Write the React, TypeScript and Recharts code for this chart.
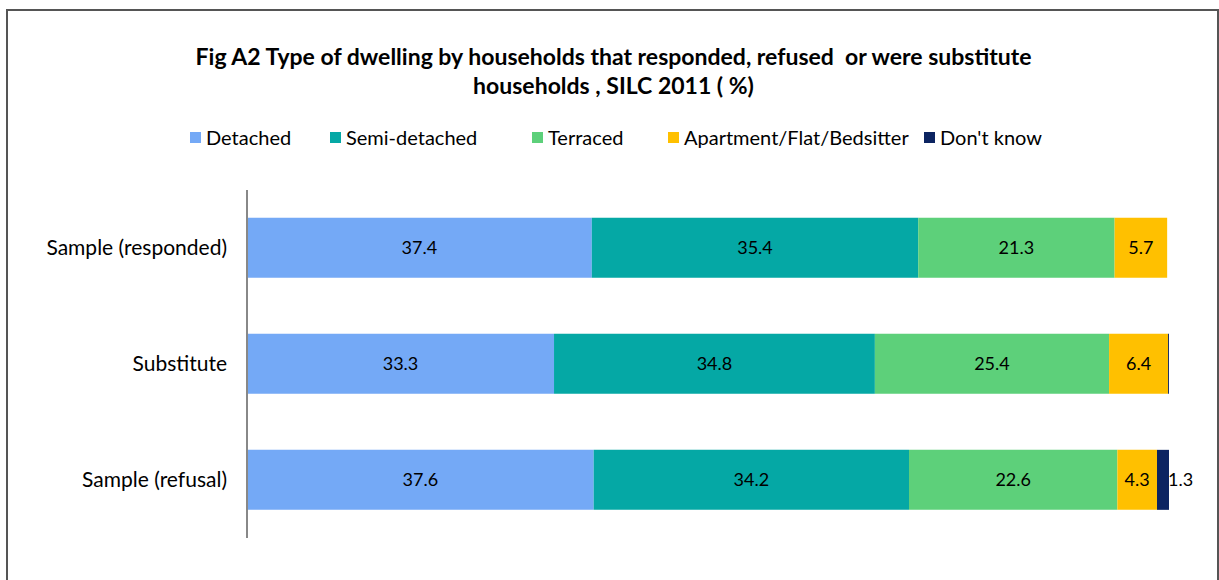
import React from "react";
import { BarChart, Bar, XAxis, YAxis, LabelList } from "recharts";

const categories = ["Sample (responded)", "Substitute", "Sample (refusal)"];
const detached = [37.4, 33.3, 37.6];
const semiDetached = [35.4, 34.8, 34.2];
const terraced = [21.3, 25.4, 22.6];
const apartment = [5.7, 6.4, 4.3];
const dontKnow = [0, 0.1, 1.3];

const seriesNames = ["Detached", "Semi-detached", "Terraced", "Apartment/Flat/Bedsitter", "Don't know"];
const seriesKeys = ["detached", "semi", "terraced", "apartment", "dk"];
const seriesColors = ["#74A9F6", "#05A8A5", "#5DD07A", "#FFC000", "#0C2461"];

const data = categories.map((c, i) => ({
  name: c,
  detached: detached[i],
  semi: semiDetached[i],
  terraced: terraced[i],
  apartment: apartment[i],
  dk: dontKnow[i],
}));

const FONT = "Lato, 'Open Sans', sans-serif";

const dkLabel = (props: any) => {
  const { x, y, width, height, value } = props;
  if (!value || value < 1) return null;
  return (
    <text x={x + width - 1} y={y + height / 2} dy={6} fontSize={18} fill="#000" fontFamily={FONT}>
      {value}
    </text>
  );
};

export default function App() {
  return (
    <div style={{ position: "absolute", left: 0, top: 0, width: 1219, height: 580, background: "#fff", overflow: "hidden", fontFamily: FONT }}>
      <div style={{ position: "absolute", left: 6, top: 9, width: 1213, height: 620, border: "2px solid #555", boxSizing: "border-box" }} />
      <div style={{ position: "absolute", left: 0, top: 42, width: 1227, textAlign: "center", fontWeight: 700, fontSize: 23, lineHeight: "29px", color: "#000" }}>
        Fig A2 Type of dwelling by households that responded, refused&nbsp; or were substitute
        <br />
        households , SILC 2011 ( %)
      </div>
      <div style={{ position: "absolute", left: 0, top: 125, width: 1219, height: 26 }}>
        {seriesNames.map((n, i) => {
          const lefts = [190, 330, 532, 668, 924];
          return (
            <div key={n} style={{ position: "absolute", left: lefts[i], top: 0, display: "flex", alignItems: "center", fontSize: 20, color: "#000", whiteSpace: "nowrap" }}>
              <span style={{ display: "inline-block", width: 11, height: 11, background: seriesColors[i], marginRight: 5 }} />
              {n}
            </div>
          );
        })}
      </div>
      <div style={{ position: "absolute", left: 0, top: 0 }}>
        <BarChart
          width={1219}
          height={580}
          data={data}
          layout="vertical"
          margin={{ top: 190, right: 50, bottom: 42, left: 0 }}
          barCategoryGap="24%"
        >
          <XAxis type="number" domain={[0, 100]} hide />
          <YAxis
            type="category"
            dataKey="name"
            width={247}
            tickLine={false}
            axisLine={{ stroke: "#888", strokeWidth: 2 }}
            tick={{ fontSize: 21, fill: "#000", fontFamily: FONT }}
            tickMargin={14}
          />
          {seriesKeys.map((k, i) => (
            <Bar key={k} dataKey={k} stackId="a" fill={seriesColors[i]} isAnimationActive={false}>
              {k === "dk" ? (
                <LabelList dataKey={k} content={dkLabel} />
              ) : (
                <LabelList dataKey={k} position="center" fill="#000" fontSize={18} fontFamily={FONT} />
              )}
            </Bar>
          ))}
        </BarChart>
      </div>
    </div>
  );
}
